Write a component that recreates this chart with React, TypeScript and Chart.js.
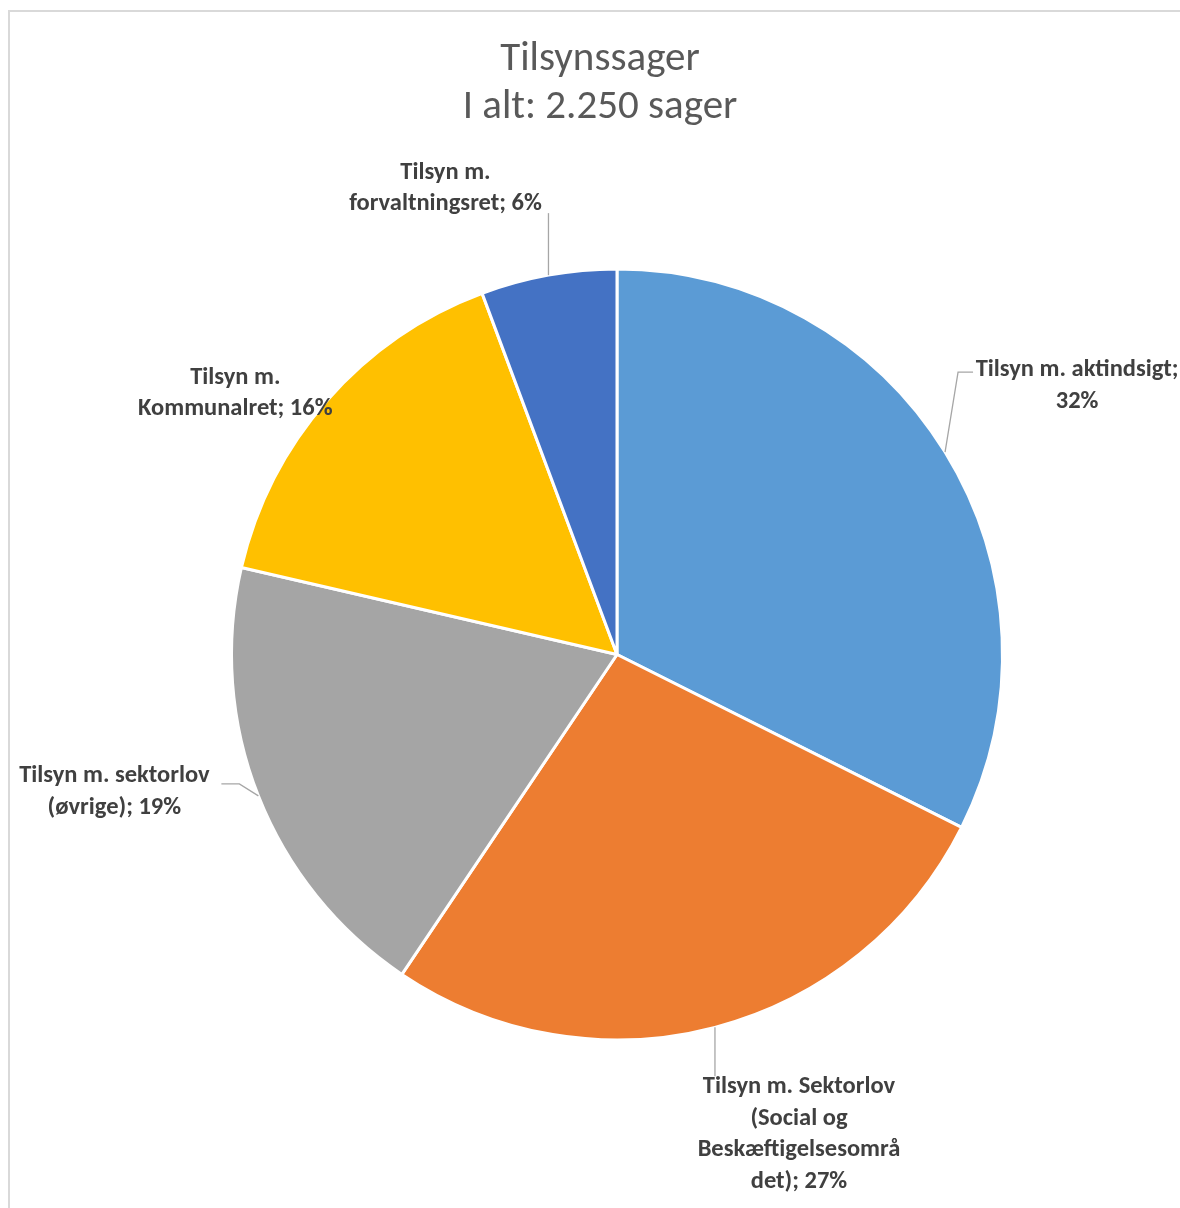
import React, { useEffect, useRef } from "react";
import { Chart, registerables } from "chart.js";

Chart.register(...registerables);

// ---- data ----
const categories = [
  "Tilsyn m. aktindsigt",
  "Tilsyn m. Sektorlov (Social og Beskæftigelsesområdet)",
  "Tilsyn m. sektorlov (øvrige)",
  "Tilsyn m. Kommunalret",
  "Tilsyn m. forvaltningsret",
];
const caseCounts = [729, 608, 432, 353, 128];
const sliceColors = ["#5B9BD5", "#ED7D31", "#A5A5A5", "#FFC000", "#4472C4"];
const titleLines = ["Tilsynssager", "I alt: 2.250 sager"];
// wrapped label text; {p} is replaced with the computed percentage
const labelWrap = [
  ["Tilsyn m. aktindsigt;", "{p}"],
  ["Tilsyn m. Sektorlov", "(Social og", "Beskæftigelsesområ", "det); {p}"],
  ["Tilsyn m. sektorlov", "(øvrige); {p}"],
  ["Tilsyn m.", "Kommunalret; {p}"],
  ["Tilsyn m.", "forvaltningsret; {p}"],
];

// ---- label placement styles (relative to slice outer midpoint / label centre) ----
const labelOffsets = [
  [132, -66],
  [84, 107],
  [-144, -4],
  [-92, -7],
  [-103, -87],
];
// leader points relative to label centre (null = no leader)
const leaderPts: (number[][] | null)[] = [
  [[-119, -14], [-104, -14]],
  [[-84, -58]],
  [[125, -8], [107, -8]],
  null,
  [[103, 25]],
];

const FONT_FAMILY = 'Carlito, "Liberation Sans", Arial, sans-serif';
const LABEL_FONT = "bold 24.5px " + FONT_FAMILY;
const LINE_H = 31.5;
const TITLE_FONT = "41px " + FONT_FAMILY;

const titlePlugin = {
  id: "twoLineTitle",
  afterDraw(chart: any) {
    const ctx = chart.ctx;
    ctx.save();
    ctx.fillStyle = "#595959";
    ctx.font = TITLE_FONT;
    ctx.textAlign = "center";
    ctx.textBaseline = "middle";
    titleLines.forEach((t, i) => ctx.fillText(t, 590, 48 + i * 48));
    ctx.restore();
  },
};

const labelPlugin = {
  id: "sliceLabels",
  afterDatasetsDraw(chart: any) {
    const ctx = chart.ctx;
    const meta = chart.getDatasetMeta(0);
    const data = chart.data.datasets[0].data as number[];
    const total = data.reduce((a, b) => a + b, 0);
    ctx.save();
    meta.data.forEach((arc: any, i: number) => {
      const { x, y, startAngle, endAngle, outerRadius } = arc.getProps(
        ["x", "y", "startAngle", "endAngle", "outerRadius"],
        true
      );
      const mid = (startAngle + endAngle) / 2;
      const ex = x + Math.cos(mid) * outerRadius;
      const ey = y + Math.sin(mid) * outerRadius;
      const cx = ex + labelOffsets[i][0];
      const cy = ey + labelOffsets[i][1];
      const pct = Math.round((data[i] / total) * 100) + "%";
      const lines = labelWrap[i].map((s) => s.replace("{p}", pct));
      const lp = leaderPts[i];
      if (lp) {
        ctx.beginPath();
        ctx.strokeStyle = "#A6A6A6";
        ctx.lineWidth = 1.3;
        ctx.moveTo(ex, ey);
        lp.forEach((p) => ctx.lineTo(cx + p[0], cy + p[1]));
        ctx.stroke();
      }
      ctx.fillStyle = "#404040";
      ctx.font = LABEL_FONT;
      ctx.textAlign = "center";
      ctx.textBaseline = "middle";
      const h0 = cy - ((lines.length - 1) * LINE_H) / 2;
      lines.forEach((ln, k) => ctx.fillText(ln, cx, h0 + k * LINE_H));
    });
    ctx.restore();
  },
};

export default function App() {
  const ref = useRef<HTMLCanvasElement | null>(null);
  useEffect(() => {
    if (!ref.current) return;
    const chart = new Chart(ref.current, {
      type: "pie",
      data: {
        labels: categories,
        datasets: [
          {
            data: caseCounts,
            backgroundColor: sliceColors,
            borderColor: "#FFFFFF",
            borderWidth: 3,
            hoverOffset: 0,
          },
        ],
      },
      options: {
        responsive: false,
        animation: false,
        devicePixelRatio: 1,
        layout: { padding: { top: 255, left: 220, right: 176, bottom: 166 } },
        plugins: {
          legend: { display: false },
          tooltip: { enabled: false },
          title: { display: false },
        },
      },
      plugins: [labelPlugin, titlePlugin],
    });
    return () => chart.destroy();
  }, []);
  return (
    <div
      style={{
        position: "absolute",
        left: 8,
        top: 10,
        width: 1172,
        height: 1198,
        boxSizing: "border-box",
        borderTop: "2px solid #D9D9D9",
        borderLeft: "2px solid #D9D9D9",
        background: "#fff",
        overflow: "hidden",
      }}
    >
      <canvas ref={ref} width={1170} height={1196} style={{ display: "block" }} />
    </div>
  );
}
